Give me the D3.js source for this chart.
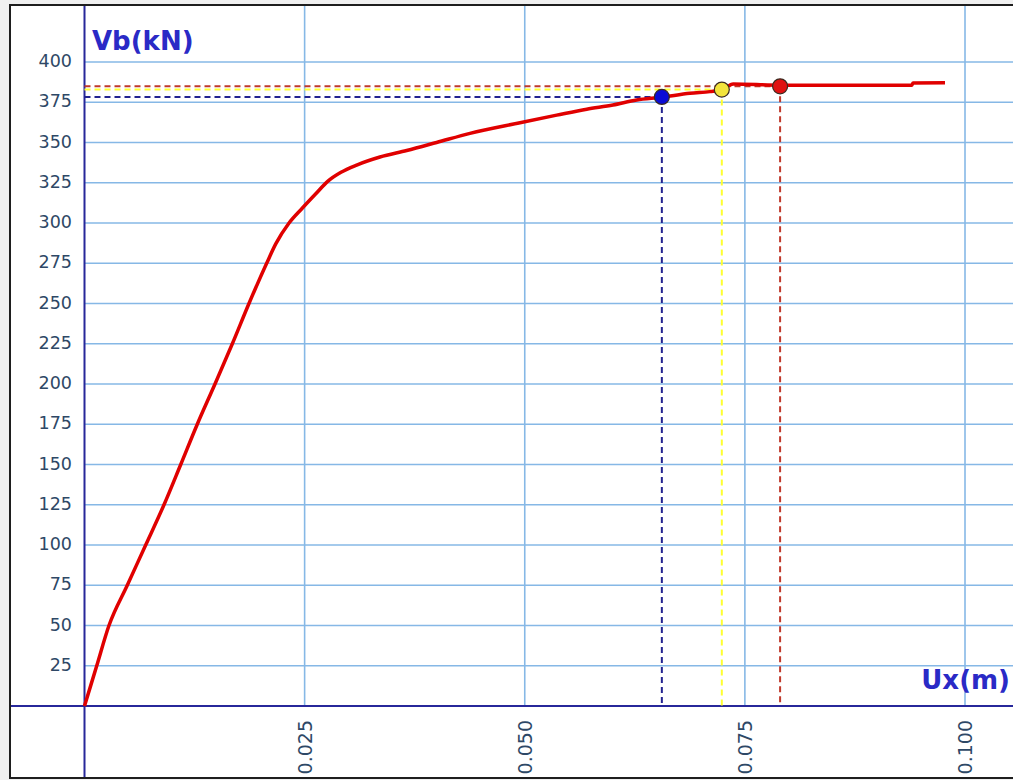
<!DOCTYPE html>
<html>
<head>
<meta charset="utf-8">
<script src="https://cdn.jsdelivr.net/npm/d3@7"></script>
<style>
    html, body { margin: 0; padding: 0; background: #f0f0f0; }
    svg { display: block; }
</style>
</head>
<body>
<svg id="chart" width="1013" height="780"></svg>
<script>
// pushover curve
const uxValues = [0, 0.00139, 0.00278, 0.00486, 0.00695, 0.00903, 0.01093, 0.01281, 0.01482,
    0.01679, 0.01868, 0.02069, 0.02172, 0.02323, 0.0247, 0.02624, 0.02765, 0.02913, 0.03091,
    0.03356, 0.03659, 0.03999, 0.04378, 0.04946, 0.05363, 0.05704, 0.06002, 0.06271, 0.06555,
    0.06876, 0.07104, 0.07237, 0.07368, 0.07899, 0.09395, 0.0941, 0.09773];
const vbValues = [0, 25, 50, 75, 100, 125, 150, 175, 200,
    225, 250, 275, 287, 300, 309, 318, 326, 331.5, 336,
    341, 345, 350, 355.7, 362.3, 367, 370.7, 373.3, 376.4, 378.1,
    380.6, 381.6, 382.6, 386.3, 385.6, 385.6, 387, 387.1];

// marked points (blue, yellow, red)
const pointNames = ["blue", "yellow", "red"];
const pointUx = [0.06557, 0.07238, 0.0790];
const pointVb = [378.3, 382.9, 384.9];

const yTicks = [25, 50, 75, 100, 125, 150, 175, 200, 225, 250, 275, 300, 325, 350, 375, 400];
const xTicks = [0.025, 0.050, 0.075, 0.100];

const fillColors = { blue: "#0b0bd6", yellow: "#f3e43c", red: "#e01212" };
const dashColors = { blue: "#23238f", yellow: "#ffff30", red: "#c0392b" };

const svg = d3.select("#chart");
const W = 1013, H = 780;

const xScale = d3.scaleLinear().domain([0, 0.1]).range([84.5, 965]);
const yScale = d3.scaleLinear().domain([0, 400]).range([706, 62]);

// frame
svg.append("rect")
    .attr("x", 10).attr("y", 5)
    .attr("width", W).attr("height", 773)
    .attr("fill", "white")
    .attr("stroke", "#1e1e1e")
    .attr("stroke-width", 2);

// grid
svg.append("g").selectAll("line")
    .data(yTicks)
    .join("line")
    .attr("x1", xScale(0)).attr("x2", W)
    .attr("y1", d => yScale(d)).attr("y2", d => yScale(d))
    .attr("stroke", "#86b8e6")
    .attr("stroke-width", 1.6);

svg.append("g").selectAll("line")
    .data(xTicks)
    .join("line")
    .attr("x1", d => xScale(d)).attr("x2", d => xScale(d))
    .attr("y1", 6).attr("y2", yScale(0))
    .attr("stroke", "#86b8e6")
    .attr("stroke-width", 1.6);

// axes lines
svg.append("line")
    .attr("x1", xScale(0)).attr("x2", xScale(0))
    .attr("y1", 6).attr("y2", 777)
    .attr("stroke", "#27279a").attr("stroke-width", 2);
svg.append("line")
    .attr("x1", 11).attr("x2", W)
    .attr("y1", yScale(0)).attr("y2", yScale(0))
    .attr("stroke", "#27279a").attr("stroke-width", 2);

// tick labels
svg.append("g").selectAll("text")
    .data(yTicks)
    .join("text")
    .attr("x", 72)
    .attr("y", d => yScale(d) - 1)
    .attr("text-anchor", "end")
    .attr("dominant-baseline", "central")
    .style("font-family", "DejaVu Sans, Verdana, sans-serif")
    .style("font-size", "17.5px")
    .attr("fill", "#2e4866")
    .text(d => d);

svg.append("g").selectAll("text")
    .data(xTicks)
    .join("text")
    .attr("transform", d => `translate(${xScale(d)}, 720) rotate(-90)`)
    .attr("text-anchor", "end")
    .attr("dominant-baseline", "central")
    .style("font-family", "DejaVu Sans, Verdana, sans-serif")
    .style("font-size", "19px")
    .attr("fill", "#2e4866")
    .text(d => d3.format(".3f")(d));

// axis titles
svg.append("text")
    .attr("x", 92).attr("y", 50)
    .style("font-family", "DejaVu Sans, Verdana, sans-serif")
    .style("font-size", "26px")
    .style("font-weight", "bold")
    .attr("fill", "#2a2ac6")
    .text("Vb(kN)");
svg.append("text")
    .attr("x", 1010).attr("y", 689)
    .attr("text-anchor", "end")
    .style("font-family", "DejaVu Sans, Verdana, sans-serif")
    .style("font-size", "26px")
    .style("font-weight", "bold")
    .attr("fill", "#2a2ac6")
    .text("Ux(m)");

// dashed guides for each point
const order = [1, 2, 0]; // yellow, red, blue
order.forEach(i => {
    const name = pointNames[i];
    svg.append("line")
        .attr("x1", xScale(0)).attr("x2", xScale(pointUx[i]))
        .attr("y1", yScale(pointVb[i])).attr("y2", yScale(pointVb[i]))
        .attr("stroke", dashColors[name])
        .attr("stroke-width", 2)
        .attr("stroke-dasharray", "6,4");
    svg.append("line")
        .attr("x1", xScale(pointUx[i])).attr("x2", xScale(pointUx[i]))
        .attr("y1", yScale(pointVb[i])).attr("y2", yScale(0))
        .attr("stroke", dashColors[name])
        .attr("stroke-width", 2)
        .attr("stroke-dasharray", "6,4");
});

// curve
const curve = uxValues.map((u, i) => [u, vbValues[i]]);
const line = d3.line()
    .x(d => xScale(d[0]))
    .y(d => yScale(d[1]))
    .curve(d3.curveMonotoneX);

svg.append("path")
    .datum(curve)
    .attr("d", line)
    .attr("fill", "none")
    .attr("stroke", "#e00000")
    .attr("stroke-width", 3.5)
    .attr("stroke-linejoin", "round");

// points
svg.append("g").selectAll("circle")
    .data(pointNames)
    .join("circle")
    .attr("cx", (d, i) => xScale(pointUx[i]))
    .attr("cy", (d, i) => yScale(pointVb[i]))
    .attr("r", 7.5)
    .attr("fill", d => fillColors[d])
    .attr("stroke", "#3a2a20")
    .attr("stroke-width", 1.2);
</script>
</body>
</html>
